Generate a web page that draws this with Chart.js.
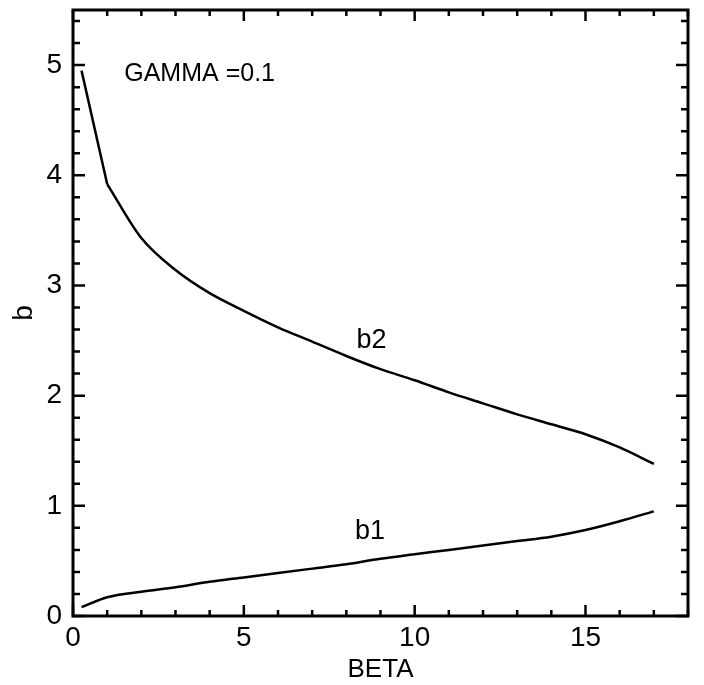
<!DOCTYPE html>
<html>
<head>
<meta charset="utf-8">
<script src="https://cdn.jsdelivr.net/npm/chart.js@4"></script>
<style>
  html, body { margin: 0; padding: 0; background: #fff; }
  #wrap { width: 704px; height: 685px; position: relative; }
</style>
</head>
<body>
<div id="wrap"><canvas id="c" width="704" height="685"></canvas></div>
<script>
// ---- data ----
const beta = [0.25, 1, 2, 3, 4, 5, 6, 7, 8, 9, 10, 11, 12, 13, 14, 15, 16, 17];
const b2 = [4.95, 3.92, 3.43, 3.14, 2.93, 2.77, 2.62, 2.49, 2.36, 2.24, 2.14, 2.03, 1.93, 1.83, 1.74, 1.65, 1.53, 1.38];
const b1 = [0.08, 0.17, 0.22, 0.26, 0.31, 0.35, 0.39, 0.43, 0.47, 0.52, 0.56, 0.60, 0.64, 0.68, 0.72, 0.78, 0.86, 0.95];
const xTicks = [0, 5, 10, 15];
const yTicks = [0, 1, 2, 3, 4, 5];
const seriesNames = ['b2', 'b1'];
const noteText = 'GAMMA =0.1';
const xTitle = 'BETA';
const yTitle = 'b';

// ---- layout / style ----
const FONT = '"Liberation Sans", Arial, sans-serif';
const labelPos = {
  note: { x: 1.5, y: 4.92 },
  b2: { x: 8.3, y: 2.50 },
  b1: { x: 8.25, y: 0.77 }
};

const toPts = (xs, ys) => xs.map((x, i) => ({ x: x, y: ys[i] }));
// b2 has a sharp corner at BETA = 1: straight first segment, smooth afterwards
const b2Pts = toPts(beta, b2);
const b1Pts = toPts(beta, b1);

const framePlugin = {
  id: 'frame',
  afterDraw(chart) {
    const ctx = chart.ctx;
    const a = chart.chartArea;
    const xs = chart.scales.x, ys = chart.scales.y;
    ctx.save();
    ctx.strokeStyle = '#000';
    ctx.lineCap = 'butt';
    ctx.lineWidth = 2.5;
    for (let v = xs.min; v <= xs.max + 1e-9; v += 1) {
      const px = xs.getPixelForValue(v);
      const major = Math.abs(v % 5) < 1e-9;
      const len = major ? 11 : 6;
      ctx.beginPath();
      ctx.moveTo(px, a.bottom); ctx.lineTo(px, a.bottom - len);
      ctx.moveTo(px, a.top); ctx.lineTo(px, a.top + len);
      ctx.stroke();
    }
    const nY = Math.floor((ys.max - ys.min) / 0.2 + 1e-9);
    for (let k = 0; k <= nY; k++) {
      const v = ys.min + k * 0.2;
      const py = ys.getPixelForValue(v);
      const major = k % 5 === 0;
      const len = major ? 12 : 7;
      ctx.beginPath();
      ctx.moveTo(a.left, py); ctx.lineTo(a.left + len, py);
      ctx.moveTo(a.right, py); ctx.lineTo(a.right - len, py);
      ctx.stroke();
    }
    ctx.lineWidth = 3;
    ctx.strokeRect(a.left, a.top, a.right - a.left, a.bottom - a.top);
    ctx.fillStyle = '#000';
    ctx.textBaseline = 'middle';
    ctx.textAlign = 'left';
    ctx.font = '25px ' + FONT;
    ctx.fillText(noteText, xs.getPixelForValue(labelPos.note.x), ys.getPixelForValue(labelPos.note.y));
    ctx.font = '27px ' + FONT;
    ctx.fillText(seriesNames[0], xs.getPixelForValue(labelPos.b2.x), ys.getPixelForValue(labelPos.b2.y));
    ctx.fillText(seriesNames[1], xs.getPixelForValue(labelPos.b1.x), ys.getPixelForValue(labelPos.b1.y));
    ctx.restore();
  }
};

const lineStyle = { showLine: true, borderColor: '#000', borderWidth: 2.5, pointRadius: 0 };

new Chart(document.getElementById('c'), {
  type: 'scatter',
  data: {
    datasets: [
      Object.assign({ label: seriesNames[0], data: b2Pts.slice(0, 2), tension: 0 }, lineStyle),
      Object.assign({ label: seriesNames[0], data: b2Pts.slice(1), cubicInterpolationMode: 'monotone' }, lineStyle),
      Object.assign({ label: seriesNames[1], data: b1Pts, cubicInterpolationMode: 'monotone' }, lineStyle)
    ]
  },
  options: {
    responsive: false,
    animation: false,
    devicePixelRatio: 1,
    layout: { autoPadding: false, padding: { left: 0, right: 16, top: 10, bottom: 0 } },
    plugins: { legend: { display: false }, tooltip: { enabled: false } },
    scales: {
      x: {
        type: 'linear', min: 0, max: 18,
        afterBuildTicks: s => { s.ticks = xTicks.map(v => ({ value: v })); },
        afterFit: s => { s.height = 69; s.paddingLeft = 0; s.paddingRight = 0; },
        grid: { display: false, drawTicks: false },
        border: { display: false },
        ticks: { color: '#000', font: { family: FONT, size: 28 }, padding: 5, maxRotation: 0 },
        title: { display: true, text: xTitle, color: '#000', font: { family: FONT, size: 26 }, padding: { top: 0, bottom: 0 } }
      },
      y: {
        type: 'linear', min: 0, max: 5.5,
        afterBuildTicks: s => { s.ticks = yTicks.map(v => ({ value: v })); },
        afterFit: s => { s.width = 73; s.paddingTop = 0; s.paddingBottom = 0; },
        grid: { display: false, drawTicks: false },
        border: { display: false },
        ticks: { color: '#000', font: { family: FONT, size: 28 }, padding: 11 },
        title: { display: true, text: yTitle, color: '#000', font: { family: FONT, size: 28 }, padding: { top: 7, bottom: 0 } }
      }
    }
  },
  plugins: [framePlugin]
});
</script>
</body>
</html>
